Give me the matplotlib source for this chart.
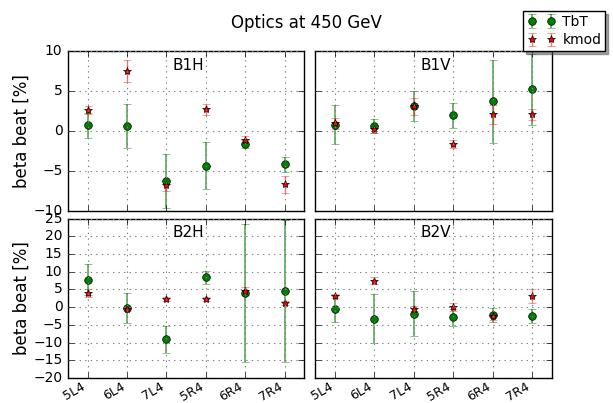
import matplotlib
matplotlib.use('Agg')
import matplotlib.pyplot as plt
import numpy as np

plt.style.use('classic')

categories = ['5L4', '6L4', '7L4', '5R4', '6R4', '7R4']

b1h_tbt = [0.7, 0.65, -6.3, -4.4, -1.6, -4.2]
b1h_tbt_err = [1.6, 2.75, 3.4, 2.95, 0.6, 0.95]
b1h_kmod = [2.6, 7.5, -6.8, 2.7, -1.15, -6.7]
b1h_kmod_err = [0.5, 1.4, 0.7, 0.7, 0.5, 1.1]

b1v_tbt = [0.8, 0.6, 3.1, 1.95, 3.7, 5.2]
b1v_tbt_err = [2.4, 0.85, 1.9, 1.6, 5.2, 4.4]
b1v_kmod = [0.95, 0.25, 3.1, -1.65, 2.1, 2.1]
b1v_kmod_err = [0.7, 0.5, 1.05, 0.45, 1.2, 0.7]

b2h_tbt = [7.8, -0.2, -9.1, 8.4, 4.0, 4.5]
b2h_tbt_err = [4.3, 4.2, 3.9, 1.75, 19.6, 20.1]
b2h_kmod = [4.0, -0.5, 2.2, 2.3, 4.6, 1.1]
b2h_kmod_err = [1.0, 0.5, 0.6, 0.5, 1.2, 0.6]

b2v_tbt = [-0.4, -3.3, -1.8, -2.8, -2.2, -2.4]
b2v_tbt_err = [3.7, 6.9, 6.3, 2.4, 1.9, 1.95]
b2v_kmod = [3.1, 7.5, -0.4, 0.0, -2.6, 3.1]
b2v_kmod_err = [0.5, 1.1, 0.7, 1.2, 0.9, 1.9]

panels = [
    ('B1H', b1h_tbt, b1h_tbt_err, b1h_kmod, b1h_kmod_err),
    ('B1V', b1v_tbt, b1v_tbt_err, b1v_kmod, b1v_kmod_err),
    ('B2H', b2h_tbt, b2h_tbt_err, b2h_kmod, b2h_kmod_err),
    ('B2V', b2v_tbt, b2v_tbt_err, b2v_kmod, b2v_kmod_err),
]

fig, axes = plt.subplots(2, 2, figsize=(6.13, 4.03), dpi=100,
                         sharex=True, sharey='row')
fig.patch.set_facecolor('white')
fig.subplots_adjust(left=0.111, right=0.900, top=0.873, bottom=0.062,
                    wspace=0.047, hspace=0.05)

x = np.arange(len(categories))
handles = None
for ax, (name, tbt, tbt_err, km, km_err) in zip(axes.flat, panels):
    h1 = ax.errorbar(x, tbt, yerr=tbt_err, fmt='o', color='green',
                     ecolor=(0.0, 0.5, 0.0, 0.65), mec='k', mfc='green',
                     ms=5.5, capsize=3, elinewidth=1.2, label='TbT')
    h2 = ax.errorbar(x, km, yerr=km_err, fmt='*', color='red',
                     ecolor=(1.0, 0.0, 0.0, 0.55), mec='k', mfc='red',
                     ms=6, capsize=3, elinewidth=1.0, label='kmod')
    if handles is None:
        handles = [h1, h2]
    ax.text(0.51, 0.91, name, transform=ax.transAxes, ha='center',
            va='center', fontsize=11)
    ax.grid(True, color='0.5', linestyle=':', linewidth=0.8)
    ax.set_xlim(-0.5, len(categories) - 0.5)
    ax.tick_params(axis='y', labelsize=10)
    ax.tick_params(axis='x', labelsize=9, pad=1.5)

for ax in axes[0]:
    ax.set_ylim(-10, 10)
    ax.set_yticks(np.arange(-10, 11, 5))
for ax in axes[1]:
    ax.set_ylim(-20, 25)
    ax.set_yticks(np.arange(-20, 26, 5))
    ax.set_xticks(x)
    ax.set_xticklabels(categories, rotation=30, ha='right')

axes[0, 0].set_ylabel('beta beat [%]', fontsize=12, labelpad=2)
axes[1, 0].set_ylabel('beta beat [%]', fontsize=12, labelpad=2)

fig.suptitle('Optics at 450 GeV', fontsize=12, y=0.965)
fig.legend(handles, ['TbT', 'kmod'], loc='upper right',
           bbox_to_anchor=(0.999, 0.99), numpoints=2, shadow=True,
           fontsize=10, borderpad=0.3, handletextpad=0.5, labelspacing=0.3)

fig.savefig('out.png', dpi=100, facecolor='white')
